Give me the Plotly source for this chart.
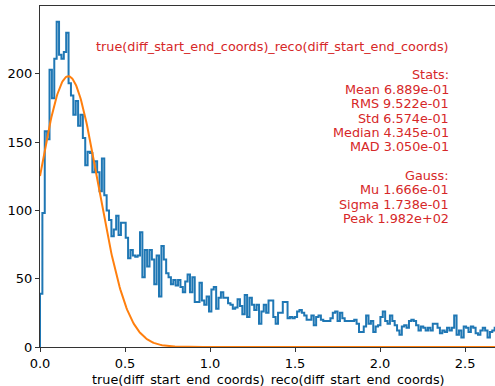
import math
import plotly.graph_objects as go

# ---------------- data ----------------
bin_width = 0.0140
counts = [
    39, 98, 158, 152, 203, 182, 211, 238, 214, 211, 216, 230, 193, 184, 170, 180,
    162, 170, 153, 133, 143, 142, 128, 136, 128, 114, 138, 111,
    100, 93, 81, 86, 96, 82, 91, 91, 80, 65, 71, 67, 66, 67, 84, 51, 71, 59, 71,
    64, 46, 67, 37, 74, 64, 54, 51, 46, 49, 45, 49, 44,
    40, 48, 53, 40, 51, 33, 33, 47, 34, 31, 37, 26, 42, 44, 28, 36, 40, 36, 36,
    32, 31, 28, 29, 35, 30, 24, 38, 22, 36, 31, 27, 31, 17,
    26, 31, 25, 34, 34, 22, 17, 25, 25, 33, 33, 21, 22, 21, 22, 26, 27, 25, 23,
    20, 20, 23, 16, 22, 23, 20, 19, 19, 19, 21, 25, 26, 19, 25,
    21, 19, 19, 19, 19, 20, 17, 11, 11, 15, 23, 17, 19, 11, 15, 16, 22, 26, 19,
    17, 23, 19, 16, 12, 9, 15, 16, 14, 19, 20, 19,
    16, 12, 15, 14, 12, 14, 12, 17, 17, 14, 10, 12, 11, 14, 12, 14, 23, 9, 12,
    7, 15, 14, 11, 15, 14, 10, 9, 12, 14, 12, 7, 11, 12, 14,
]

gauss_mu = 1.666e-01
gauss_sigma = 1.738e-01
gauss_peak = 1.982e+02

stat_names = ["Mean", "RMS", "Std", "Median", "MAD"]
stat_values = ["6.889e-01", "9.522e-01", "6.574e-01", "4.345e-01", "3.050e-01"]
gauss_names = ["Mu", "Sigma", "Peak"]
gauss_values = ["1.666e-01", "1.738e-01", "1.982e+02"]

x_ticks = [0.0, 0.5, 1.0, 1.5, 2.0, 2.5]
y_ticks = [0, 50, 100, 150, 200]
x_range = [0, 2.676]
y_range = [0, 249.6]

hist_name = "true(diff_start_end_coords)_reco(diff_start_end_coords)"
title_text = "true(diff_start_end_coords)_reco(diff_start_end_coords), Histogram"
x_label = "true(diff_start_end_coords)_reco(diff_start_end_coords)"

# ---------------- build ----------------
n = len(counts)
edges = [i * bin_width for i in range(n + 1)]
hx = [edges[0]] + edges[:n] + [edges[n], edges[n]]
hy = [0] + counts + [counts[-1], 0]

gx = [x_range[0] + (x_range[1] - x_range[0]) * i / 600 for i in range(601)]
gy = [gauss_peak * math.exp(-((v - gauss_mu) ** 2) / (2 * gauss_sigma ** 2)) for v in gx]

fig = go.Figure()
fig.add_trace(go.Scatter(x=hx, y=hy, mode="lines", line=dict(color="#1f77b4", width=2, shape="hv"),
                         hoverinfo="skip", showlegend=False))
fig.add_trace(go.Scatter(x=gx, y=gy, mode="lines", line=dict(color="#ff7f0e", width=2),
                         hoverinfo="skip", showlegend=False))

W, H = 495, 386
L, R, T, B = 40, 0, 6, 39
pw, ph = W - L - R, H - T - B

def px_x(p):
    return (p - L) / pw

def px_y(p):
    return (H - B - p) / ph

red = "#d62728"
font = "DejaVu Sans"
lines = [(hist_name, 46.2), ("Stats:", 74.9)]
ys = [89.3, 103.6, 118.0, 132.3, 146.7]
for nm, vl, yy in zip(stat_names, stat_values, ys):
    lines.append((f"{nm} {vl}", yy))
lines.append(("Gauss:", 175.4))
for nm, vl, yy in zip(gauss_names, gauss_values, [189.7, 204.1, 218.4]):
    lines.append((f"{nm} {vl}", yy))

annotations = []
for txt, yy in lines:
    annotations.append(dict(text=txt, xref="paper", yref="paper", x=px_x(451), y=px_y(yy),
                            xanchor="right", yanchor="middle", showarrow=False,
                            font=dict(family=font, size=12.8, color=red)))

annotations.append(dict(text=x_label, xref="paper", yref="paper", x=px_x(268.5), y=0,
                        xanchor="center", yanchor="top", yshift=-22.9, showarrow=False,
                        font=dict(family=font, size=12.8, color="black")))
annotations.append(dict(text=title_text, xref="paper", yref="paper", x=px_x(-47.5), y=1,
                        xanchor="left", yanchor="bottom", yshift=5.6, showarrow=False,
                        font=dict(family=font, size=15.4, color="black")))

fig.update_layout(
    width=W, height=H,
    margin=dict(l=L, r=R, t=T, b=B, pad=0),
    paper_bgcolor="white", plot_bgcolor="white",
    font=dict(family=font, size=13, color="black"),
    annotations=annotations,
    xaxis=dict(range=x_range, tickvals=x_ticks, tickformat=".1f", showgrid=False, zeroline=False,
               showline=True, linecolor="#333333", linewidth=1, mirror=True,
               ticks="outside", ticklen=4, tickcolor="#333333", tickfont=dict(size=13)),
    yaxis=dict(range=y_range, tickvals=y_ticks, showgrid=False, zeroline=False,
               showline=True, linecolor="#333333", linewidth=1,
               ticks="outside", ticklen=4, tickcolor="#333333", tickfont=dict(size=13)),
)

fig.write_html("out.html", config={"displayModeBar": False},
               post_script="document.body.style.margin='0px';document.body.style.overflow='hidden';")
